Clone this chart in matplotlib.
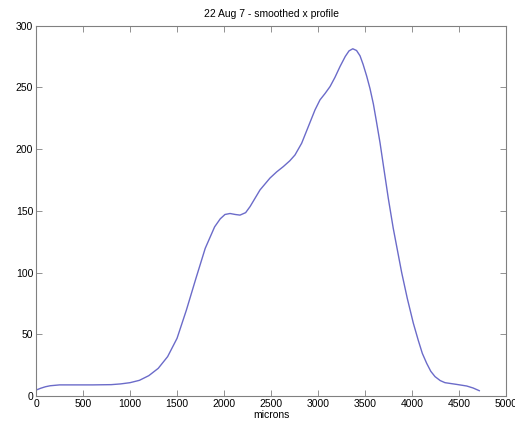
import numpy as np
import matplotlib.pyplot as plt

plt.rcParams['font.family'] = ['Liberation Sans', 'DejaVu Sans']

# smoothed x profile
microns = [0, 50, 100, 150, 250, 400, 600, 800, 900, 1000, 1100, 1200, 1300,
           1400, 1500, 1600, 1700, 1800, 1900, 1960, 2010, 2064, 2120, 2170,
           2230, 2277, 2383, 2489, 2560, 2631, 2700, 2755, 2826, 2897, 2968,
           3021, 3075, 3128, 3180, 3234, 3290, 3330, 3370, 3410, 3447, 3480,
           3518, 3553, 3589, 3620, 3660, 3695, 3748, 3800, 3850, 3890, 3950,
           4014, 4067, 4110, 4156, 4200, 4245, 4300, 4351, 4475, 4582, 4650,
           4716]
counts = [4.8, 6.3, 7.5, 8.3, 9.0, 9.0, 9.0, 9.2, 9.8, 10.8, 12.7, 16.5, 22.4,
          31.9, 46.7, 69.7, 95.0, 119.6, 137.0, 143.5, 147.0, 147.8, 147.0,
          146.5, 148.5, 153.4, 166.9, 176.5, 181.5, 185.8, 190.5, 195.2, 204.7,
          218.2, 231.7, 239.8, 245.0, 250.6, 258.0, 266.8, 275.0, 279.5, 281.2,
          279.8, 275.5, 268.5, 259.0, 249.0, 236.5, 223.0, 205.0, 187.0, 160.0,
          136.0, 116.0, 100.0, 79.0, 59.0, 45.0, 34.5, 26.5, 20.0, 15.7, 12.5,
          10.8, 9.4, 8.1, 6.5, 4.3]

fig = plt.figure(figsize=(5.15, 4.26), dpi=100)
ax = fig.add_axes([0.070, 0.0704, 0.9125, 0.8696])

ax.plot(microns, counts, color='#6b6bc9', lw=1.0)

ax.set_xlim(0, 5000)
ax.set_ylim(0, 300)
ax.set_xticks(np.arange(0, 5001, 500))
ax.set_yticks(np.arange(0, 301, 50))
ax.tick_params(direction='in', top=True, right=True, length=4, width=0.6,
               color='#808080', labelsize=7.5, pad=2)
for s in ax.spines.values():
    s.set_color('#808080')
    s.set_linewidth(0.8)

ax.set_title('22 Aug 7 - smoothed x profile', fontsize=7.5, pad=6)
ax.set_xlabel('microns', fontsize=7.5, labelpad=1)

fig.savefig('out.png', dpi=100)
